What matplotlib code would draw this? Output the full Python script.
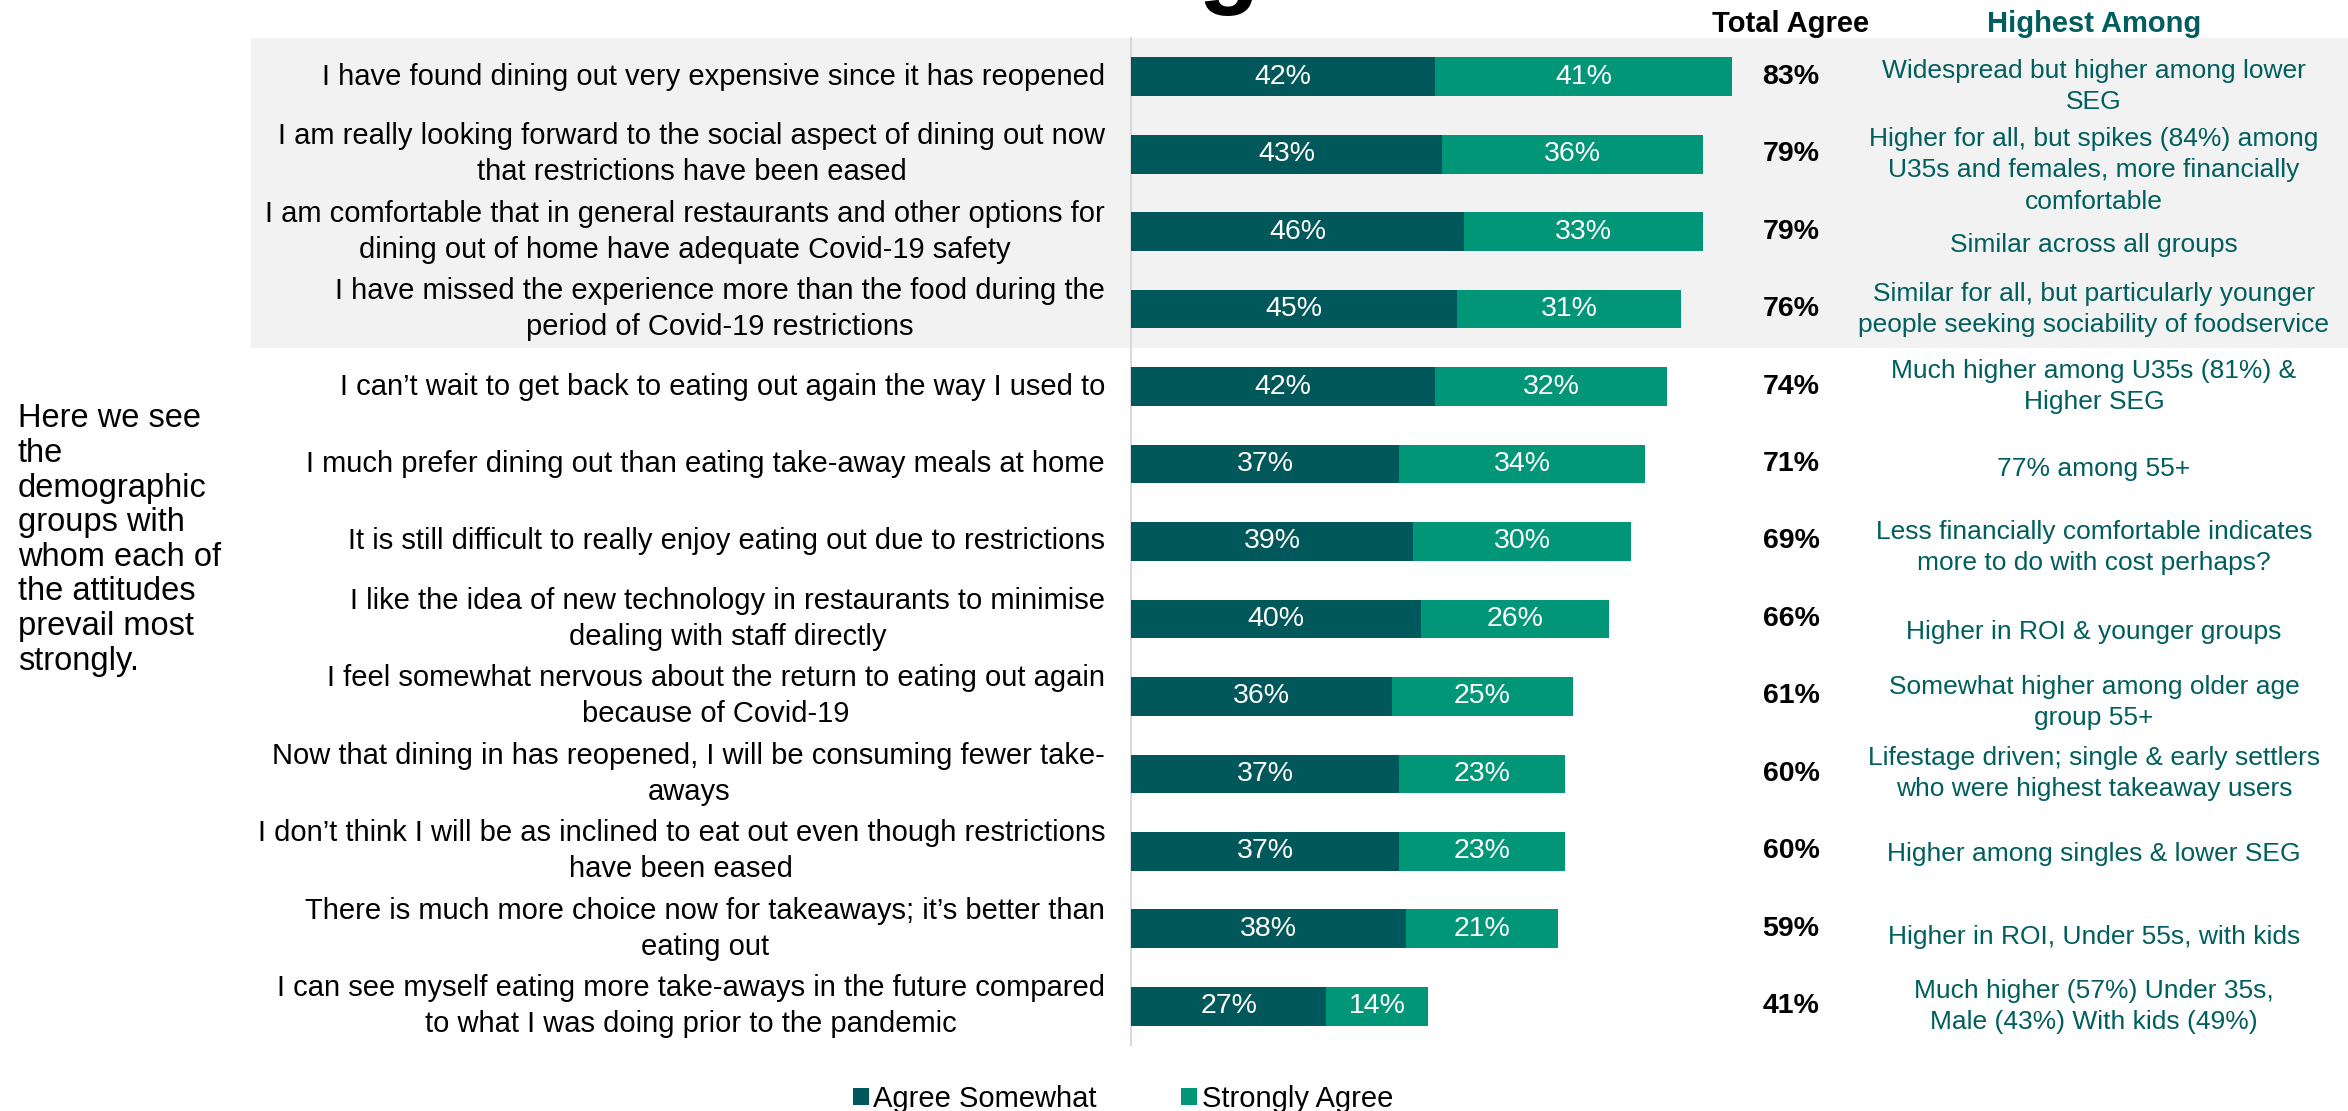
import matplotlib
matplotlib.use("Agg")
import matplotlib.pyplot as plt
from matplotlib.patches import Rectangle
from matplotlib.transforms import blended_transform_factory

plt.rcParams['font.family'] = ['Liberation Sans', 'DejaVu Sans']

# ---- data ----
statements = [
    "I have found dining out very expensive since it has reopened",
    "I am really looking forward to the social aspect of dining out now\nthat restrictions have been eased",
    "I am comfortable that in general restaurants and other options for\ndining out of home have adequate Covid-19 safety",
    "I have missed the experience more than the food during the\nperiod of Covid-19 restrictions",
    "I can\u2019t wait to get back to eating out again the way I used to",
    "I much prefer dining out than eating take-away meals at home",
    "It is still difficult to really enjoy eating out due to restrictions",
    "I like the idea of new technology in restaurants to minimise\ndealing with staff directly",
    "I feel somewhat nervous about the return to eating out again\nbecause of Covid-19",
    "Now that dining in has reopened, I will be consuming fewer take-\naways",
    "I don\u2019t think I will be as inclined to eat out even though restrictions\nhave been eased",
    "There is much more choice now for takeaways; it\u2019s better than\neating out",
    "I can see myself eating more take-aways in the future compared\nto what I was doing prior to the pandemic",
]
agree_somewhat = [42, 43, 46, 45, 42, 37, 39, 40, 36, 37, 37, 38, 27]
strongly_agree = [41, 36, 33, 31, 32, 34, 30, 26, 25, 23, 23, 21, 14]
total_agree = [83, 79, 79, 76, 74, 71, 69, 66, 61, 60, 60, 59, 41]
highest_among = [
    "Widespread but higher among lower\nSEG",
    "Higher for all, but spikes (84%) among\nU35s and females, more financially\ncomfortable",
    "Similar across all groups",
    "Similar for all, but particularly younger\npeople seeking sociability of foodservice",
    "Much higher among U35s (81%) &\nHigher SEG",
    "77% among 55+",
    "Less financially comfortable indicates\nmore to do with cost perhaps?",
    "Higher in ROI & younger groups",
    "Somewhat higher among older age\ngroup 55+",
    "Lifestage driven; single & early settlers\nwho were highest takeaway users",
    "Higher among singles & lower SEG",
    "Higher in ROI, Under 55s, with kids",
    "Much higher (57%) Under 35s,\nMale (43%) With kids (49%)",
]
series_names = ["Agree Somewhat", "Strongly Agree"]
side_note = ("Here we see\nthe\ndemographic\ngroups with\nwhom each of\n"
             "the attitudes\nprevail most\nstrongly.")

# ---- styling / layout ----
DARK = "#00585A"
GREEN = "#009677"
TEAL_TEXT = "#005E5E"
BAND = "#F2F2F2"
note_offsets = [0.13, 0.21, 0.17, 0.0, 0.0, 0.06, 0.08, 0.17, 0.08, 0.0, 0.04, 0.10, 0.0]

W, H = 2348, 1111
fig = plt.figure(figsize=(W / 100, H / 100), dpi=100)
fig.patch.set_facecolor("white")

ax_left = 1131 / W
ax_w = 724 / W
ax_bottom = 1 - 1045 / H
ax_top = 1 - 38 / H
ax = fig.add_axes([ax_left, ax_bottom, ax_w, ax_top - ax_bottom])
ax.patch.set_visible(False)

n = len(statements)
ypos = list(range(n))

ax.barh(ypos, agree_somewhat, height=0.5, color=DARK, label=series_names[0],
        linewidth=0, zorder=3)
ax.barh(ypos, strongly_agree, left=agree_somewhat, height=0.5, color=GREEN,
        label=series_names[1], linewidth=0, zorder=3)

for y, a, s in zip(ypos, agree_somewhat, strongly_agree):
    ax.text(a / 2, y, f"{a}%", ha="center", va="center", color="white",
            fontsize=20.5, zorder=4)
    ax.text(a + s / 2, y, f"{s}%", ha="center", va="center", color="white",
            fontsize=20.5, zorder=4)

ax.set_xlim(0, 100)
ax.set_ylim(n - 0.5, -0.5)
ax.set_xticks([])
ax.set_yticks([])
for side in ("top", "right", "bottom"):
    ax.spines[side].set_visible(False)
ax.spines["left"].set_color("#D9D9D9")
ax.spines["left"].set_linewidth(1.5)
ax.spines["left"].set_zorder(2)

figx = blended_transform_factory(fig.transFigure, ax.transData)

# shaded band behind the first four statements
ax.add_patch(Rectangle((251 / W, -0.5), 1 - 251 / W, 4.0, transform=figx,
                       facecolor=BAND, edgecolor="none", zorder=0, clip_on=False))

for y, lab in zip(ypos, statements):
    ax.text(1105 / W, y, lab, transform=figx, ha="right", va="center",
            multialignment="center", fontsize=21, linespacing=1.36,
            color="black", clip_on=False)

for y, t in zip(ypos, total_agree):
    ax.text(1791 / W, y, f"{t}%", transform=figx, ha="center", va="center",
            fontsize=20.5, fontweight="bold", color="black", clip_on=False)

for y, note, off in zip(ypos, highest_among, note_offsets):
    ax.text(2094 / W, y + off, note, transform=figx, ha="center", va="center",
            multialignment="center", fontsize=19, linespacing=1.38,
            color=TEAL_TEXT, clip_on=False)

fig.text(1791 / W, 1 - 24 / H, "Total Agree", ha="center", va="center",
         fontsize=21, fontweight="bold", color="black")
fig.text(2094 / W, 1 - 24 / H, "Highest Among", ha="center", va="center",
         fontsize=21, fontweight="bold", color=TEAL_TEXT)

fig.text(18 / W, 1 - 540 / H, side_note, ha="left", va="center",
         fontsize=23.5, linespacing=1.15, color="black")

# heading sits mostly above the canvas
fig.text(1260 / W, 1 + 5 / H, "Dining", ha="right", va="baseline",
         fontsize=72, fontweight="bold", color="black")

handles, labels = ax.get_legend_handles_labels()
fig.legend(handles, labels, loc="center", bbox_to_anchor=(1123 / W, 1 - 1099 / H),
           ncol=2, frameon=False, fontsize=21, handlelength=0.55,
           handleheight=0.55, handletextpad=0.15, columnspacing=2.9,
           borderaxespad=0)

fig.savefig("out.png", dpi=100, facecolor="white")
